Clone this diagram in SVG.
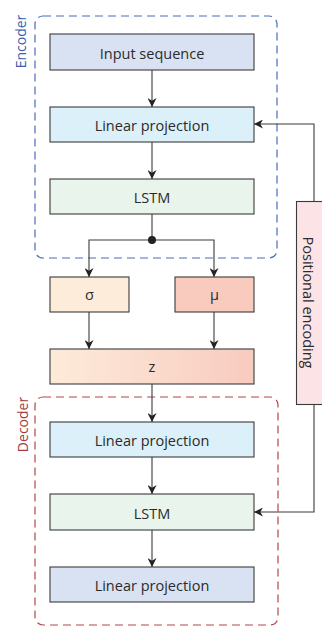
<svg xmlns="http://www.w3.org/2000/svg" width="322" height="626" viewBox="0 0 322 626">
<style>
.box{stroke:#3b3b3b;stroke-width:1.1}
.lbl{font-family:"Open Sans","Noto Sans",sans-serif;font-size:14.5px;fill:#2b2b2b;text-anchor:middle}
.con{fill:none;stroke:#3b3b3b;stroke-width:1.1}
</style>
<defs>
<marker id="ah" viewBox="0 0 10 10" refX="10" refY="5" markerWidth="9" markerHeight="9" markerUnits="userSpaceOnUse" orient="auto">
<path d="M0,0 L10,5 L0,10 L3,5 z" fill="#222"/>
</marker>
<linearGradient id="zg" x1="0" y1="0" x2="1" y2="0">
<stop offset="0" stop-color="#fdebda"/>
<stop offset="1" stop-color="#f8cbbf"/>
</linearGradient>
</defs>
<g id="encoder">
<rect x="35" y="16" width="242" height="242" rx="8" fill="none" stroke="#4a6dbb" stroke-width="1.2" stroke-dasharray="8 5"/>
<text transform="translate(26,41.5) rotate(-90)" style="font-family:'Open Sans','Noto Sans',sans-serif;font-size:14px;fill:#3d5fae;text-anchor:middle">Encoder</text>
</g>
<g id="decoder">
<rect x="35" y="397" width="243" height="228" rx="8" fill="none" stroke="#b4464c" stroke-width="1.2" stroke-dasharray="8 5"/>
<text transform="translate(28,424.5) rotate(-90)" style="font-family:'Open Sans','Noto Sans',sans-serif;font-size:14px;fill:#a63c42;text-anchor:middle">Decoder</text>
</g>
<g id="connectors">
<path class="con" d="M152,70 V107" marker-end="url(#ah)"/>
<path class="con" d="M152,142 V179" marker-end="url(#ah)"/>
<path class="con" d="M152,214 V240"/>
<path class="con" d="M152,240 H89 V277" marker-end="url(#ah)"/>
<path class="con" d="M152,240 H214 V277" marker-end="url(#ah)"/>
<circle cx="152" cy="240" r="4" fill="#222"/>
<path class="con" d="M89,312 V349" marker-end="url(#ah)"/>
<path class="con" d="M214,312 V349" marker-end="url(#ah)"/>
<path class="con" d="M152,384 V422" marker-end="url(#ah)"/>
<path class="con" d="M152,457 V494" marker-end="url(#ah)"/>
<path class="con" d="M152,530 V567" marker-end="url(#ah)"/>
<path class="con" d="M314,202 V124 H254" marker-end="url(#ah)"/>
<path class="con" d="M314,405 V512 H254" marker-end="url(#ah)"/>
</g>
<g id="input-sequence">
<rect class="box" x="50" y="34" width="204" height="36" fill="#d9e2f3"/>
<text class="lbl" x="152" y="58.5">Input sequence</text>
</g>
<g id="enc-linear-projection">
<rect class="box" x="50" y="107" width="204" height="35" fill="#dcf0f9"/>
<text class="lbl" x="152" y="131">Linear projection</text>
</g>
<g id="enc-lstm">
<rect class="box" x="50" y="179" width="204" height="35" fill="#e9f4ec"/>
<text class="lbl" x="152" y="203">LSTM</text>
</g>
<g id="sigma">
<rect class="box" x="50" y="277" width="79" height="35" fill="#fdecda"/>
<text class="lbl" x="89.5" y="300">σ</text>
</g>
<g id="mu">
<rect class="box" x="175" y="277" width="79" height="35" fill="#f9cbbf"/>
<text class="lbl" x="214.5" y="300">μ</text>
</g>
<g id="z">
<rect class="box" x="50" y="349" width="204" height="35" fill="url(#zg)"/>
<text class="lbl" x="152" y="372">z</text>
</g>
<g id="positional-encoding">
<rect class="box" x="296.5" y="201.5" width="30" height="203" fill="#fbe3e6"/>
<text class="lbl" transform="translate(302.5,302.5) rotate(90)">Positional encoding</text>
</g>
<g id="dec-linear-projection">
<rect class="box" x="50" y="422" width="204" height="35" fill="#dcf0f9"/>
<text class="lbl" x="152" y="446">Linear projection</text>
</g>
<g id="dec-lstm">
<rect class="box" x="50" y="494" width="204" height="36" fill="#e9f4ec"/>
<text class="lbl" x="152" y="518.5">LSTM</text>
</g>
<g id="out-linear-projection">
<rect class="box" x="50" y="567" width="204" height="35" fill="#d9e2f3"/>
<text class="lbl" x="152" y="591">Linear projection</text>
</g>
</svg>
